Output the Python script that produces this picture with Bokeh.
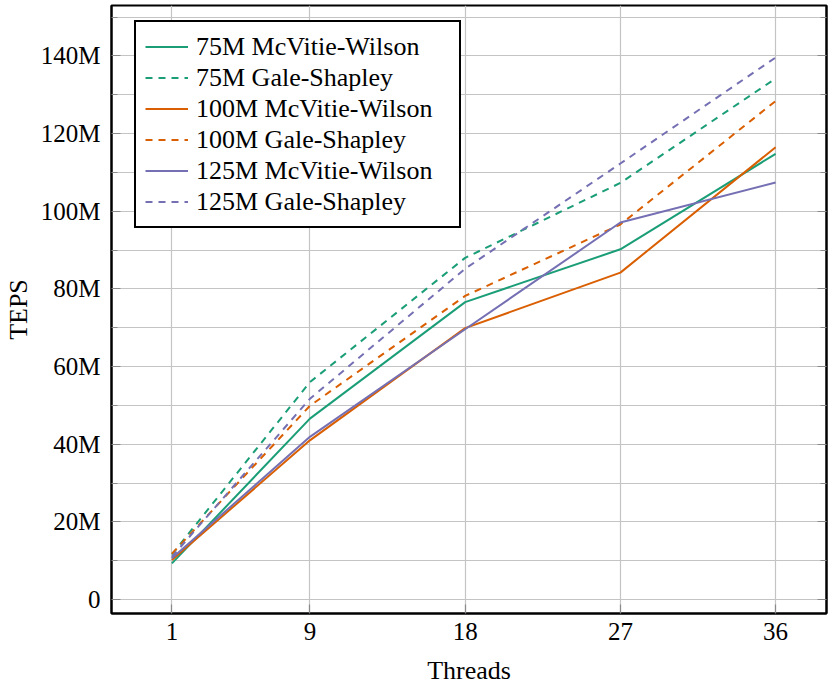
from bokeh.plotting import figure
from bokeh.models import (Range1d, FixedTicker, LinearAxis, Legend, LegendItem,
                          CustomJSTickFormatter)
from bokeh.embed import file_html
from bokeh.resources import INLINE

# ---- data (TEPS in millions) ----
threads = [1, 9, 18, 27, 36]
mw75 = [9.3, 46.6, 76.6, 90.2, 114.8]
gs75 = [11.6, 56.0, 88.0, 107.3, 134.2]
mw100 = [10.2, 41.0, 69.9, 84.2, 116.5]
gs100 = [11.8, 49.9, 78.2, 96.6, 128.4]
mw125 = [10.6, 41.9, 69.6, 97.1, 107.4]
gs125 = [11.0, 51.7, 85.2, 112.3, 139.6]

series = [
    ("75M McVitie-Wilson", mw75, "#1b9e77", "solid"),
    ("75M Gale-Shapley", gs75, "#1b9e77", "7 6"),
    ("100M McVitie-Wilson", mw100, "#d95f02", "solid"),
    ("100M Gale-Shapley", gs100, "#d95f02", "7 6"),
    ("125M McVitie-Wilson", mw125, "#7570b3", "solid"),
    ("125M Gale-Shapley", gs125, "#7570b3", "7 6"),
]

y_major = [0, 20, 40, 60, 80, 100, 120, 140]
y_minor = [10, 30, 50, 70, 90, 110, 130, 150]
y_grid = [0, 10, 20, 30, 40, 50, 60, 70, 80, 90, 100, 110, 120, 130, 140, 150]

FONT = "Liberation Serif"

p = figure(width=828, height=687, output_backend="svg", toolbar_location=None,
           x_range=Range1d(-2.503, 38.95), y_range=Range1d(-3.6, 153.0),
           min_border_left=110, min_border_right=2, min_border_top=5,
           min_border_bottom=73)

p.outline_line_color = "black"
p.outline_line_width = 2
p.background_fill_color = "white"

tick_color = "#8a8a8a"

# grids
p.xgrid.ticker = FixedTicker(ticks=threads)
p.ygrid.ticker = FixedTicker(ticks=y_grid)
for g in (p.xgrid, p.ygrid):
    g.grid_line_color = "#c4c4c4"
    g.grid_line_width = 1.2

xa = p.xaxis[0]
xa.ticker = FixedTicker(ticks=threads)
xa.axis_label = "Threads"
ya = p.yaxis[0]
ya.ticker = FixedTicker(ticks=y_major, minor_ticks=y_minor)
ya.axis_label = "TEPS"
ya.formatter = CustomJSTickFormatter(code='return tick == 0 ? "0" : tick + "M";')

for ax in (xa, ya):
    ax.axis_line_color = "black"
    ax.axis_line_width = 2
    ax.major_tick_in = 9
    ax.major_tick_out = 0
    ax.minor_tick_in = 6
    ax.minor_tick_out = 0
    ax.major_tick_line_color = tick_color
    ax.minor_tick_line_color = tick_color
    ax.major_tick_line_width = 1.2
    ax.minor_tick_line_width = 1.2
    ax.major_label_text_font = FONT
    ax.major_label_text_font_size = "25px"
    ax.major_label_text_color = "black"
    ax.axis_label_text_font = FONT
    ax.axis_label_text_font_size = "26px"
    ax.axis_label_text_font_style = "normal"
    ax.axis_label_text_color = "black"
xa.minor_tick_line_color = None
xa.major_label_standoff = 9
xa.axis_label_standoff = 13
ya.major_label_standoff = 11
ya.axis_label_standoff = 5

# right axis: ticks only
ra = LinearAxis(ticker=FixedTicker(ticks=y_major, minor_ticks=y_minor))
ra.axis_line_color = "black"
ra.axis_line_width = 2
ra.major_tick_in = 9
ra.major_tick_out = 0
ra.minor_tick_in = 6
ra.minor_tick_out = 0
ra.major_tick_line_color = tick_color
ra.minor_tick_line_color = tick_color
ra.major_label_text_font_size = "0px"
ra.major_label_standoff = 0
ra.major_label_text_alpha = 0
p.add_layout(ra, "right")

items = []
for name, vals, color, dash in series:
    r = p.line(threads, vals, line_color=color, line_width=2, line_dash=dash)
    items.append(LegendItem(label=name, renderers=[r]))

legend = Legend(items=items, location=(23, 385), orientation="vertical")
legend.border_line_color = "black"
legend.border_line_width = 2
legend.border_line_alpha = 1
legend.background_fill_color = "white"
legend.background_fill_alpha = 1
legend.label_text_font = FONT
legend.label_text_font_size = "26px"
legend.label_text_color = "black"
legend.glyph_width = 43
legend.glyph_height = 31
legend.label_height = 31
legend.label_width = 254
legend.label_standoff = 8
legend.padding = 9
legend.spacing = 0
legend.margin = 0
p.add_layout(legend, "center")

open("out.html", "w").write(file_html(p, INLINE))
